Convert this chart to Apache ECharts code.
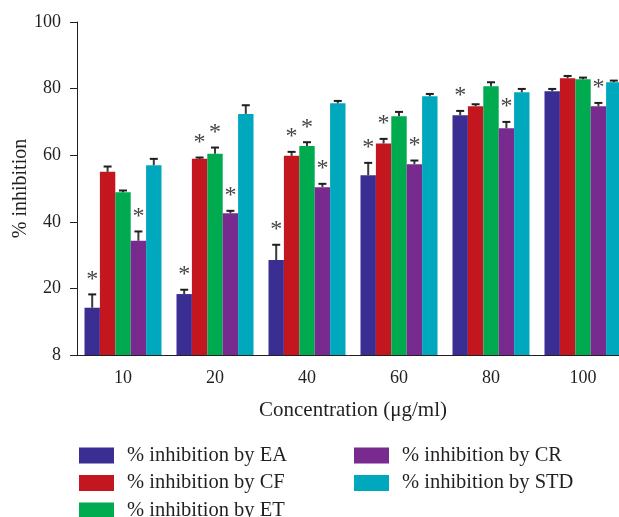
<!DOCTYPE html>
<html>
<head>
<meta charset="utf-8">
<script src="https://cdn.jsdelivr.net/npm/echarts@6/dist/echarts.min.js"></script>
<style>
  html, body { margin: 0; padding: 0; background: #fff; }
  #chart { width: 619px; height: 517px; }
</style>
</head>
<body>
<div id="chart"></div>
<script>
// Concentrations (µg/ml)
const categories = ['10', '20', '40', '60', '80', '100'];
const yTickLabels = ['8', '20', '40', '60', '80', '100'];

// Mean % inhibition per extract
const eaMean  = [14.2, 18.3, 28.5, 54.0, 72.0, 79.2];
const cfMean  = [55.0, 58.9, 59.8, 63.5, 74.7, 83.1];
const etMean  = [48.9, 60.4, 62.8, 71.7, 80.7, 82.8];
const crMean  = [34.3, 42.6, 50.4, 57.3, 68.1, 74.7];
const stdMean = [57.0, 72.4, 75.6, 77.7, 78.9, 81.9];

// Upper end of the error bars
const eaUpper  = [18.2, 19.6, 33.1, 57.7, 73.3, 79.9];
const cfUpper  = [56.6, 59.3, 61.0, 64.9, 75.3, 83.8];
const etUpper  = [49.4, 62.3, 63.9, 73.0, 81.9, 83.3];
const crUpper  = [37.1, 43.3, 51.4, 58.4, 70.0, 75.7];
const stdUpper = [58.9, 75.0, 76.3, 78.4, 79.9, 82.4];

// Significance marks (1 = asterisk)
const eaSig  = [1, 1, 1, 1, 1, 0];
const cfSig  = [0, 1, 1, 1, 0, 0];
const etSig  = [0, 1, 1, 0, 0, 0];
const crSig  = [1, 1, 1, 1, 1, 1];
const stdSig = [0, 0, 0, 0, 0, 0];

const seriesNames = [
  '% inhibition by EA', '% inhibition by CF', '% inhibition by ET',
  '% inhibition by CR', '% inhibition by STD'
];
const colors = ['#3a2e92', '#c4161e', '#00aa4e', '#782a8e', '#00a8bd'];
const means = [eaMean, cfMean, etMean, crMean, stdMean];
const uppers = [eaUpper, cfUpper, etUpper, crUpper, stdUpper];
const sigs = [eaSig, cfSig, etSig, crSig, stdSig];

const FONT = '"Liberation Serif", "DejaVu Serif", serif';
const TEXT = '#231f20';
const BAR_W = 15.4;

function makeErrorRenderer(k) {
  return function (params, api) {
    const idx = api.value(0);
    const upper = api.value(1);
    const mean = api.value(2);
    const sig = api.value(3);
    const base = api.coord([idx, mean]);
    const top = api.coord([idx, upper]);
    const x = base[0] + (k - 2) * BAR_W;
    const children = [
      { type: 'line', shape: { x1: x, y1: base[1], x2: x, y2: top[1] },
        style: { stroke: '#3a3a3a', lineWidth: 2 } },
      { type: 'line', shape: { x1: x - 4, y1: top[1], x2: x + 4, y2: top[1] },
        style: { stroke: '#1e1e1e', lineWidth: 2 } }
    ];
    if (sig) {
      children.push({
        type: 'text',
        x: x, y: top[1] - 3,
        style: {
          text: '*', fill: '#444', font: '24px ' + FONT,
          align: 'center', verticalAlign: 'bottom'
        }
      });
    }
    return { type: 'group', children: children };
  };
}

const series = [];
seriesNames.forEach(function (name, k) {
  series.push({
    name: name,
    type: 'bar',
    barWidth: BAR_W,
    barGap: '0%',
    itemStyle: { color: colors[k] },
    data: means[k],
    z: 2
  });
});
seriesNames.forEach(function (name, k) {
  series.push({
    type: 'custom',
    name: name + ' error',
    renderItem: makeErrorRenderer(k),
    data: means[k].map(function (m, i) { return [i, uppers[k][i], m, sigs[k][i]]; }),
    encode: { x: 0, y: 1 },
    z: 5,
    silent: true
  });
});

// One legend row per series: two columns, three rows on the left
const legendSpots = [[79, 445], [79, 472.5], [79, 500], [354, 445], [354, 472.5]];
const legends = seriesNames.map(function (name, k) {
  return {
    data: [name],
    left: legendSpots[k][0], top: legendSpots[k][1], padding: 0,
    icon: 'rect', itemWidth: 35, itemHeight: 16,
    textStyle: { fontFamily: FONT, fontSize: 20.5, color: TEXT, lineHeight: 16, padding: [0, 0, 0, 8] },
    selectedMode: false
  };
});

const chart = echarts.init(document.getElementById('chart'), null, { renderer: 'canvas' });
chart.setOption({
  animation: false,
  backgroundColor: '#fff',
  grid: { left: 77, width: 552, top: 22, bottom: 162, outerBoundsMode: 'none', containLabel: false },
  legend: legends,
  xAxis: {
    type: 'category',
    data: categories,
    name: 'Concentration (\u03bcg/ml)',
    nameLocation: 'middle',
    nameGap: 45,
    nameMoveOverlap: false,
    nameTextStyle: { fontFamily: FONT, fontSize: 21, color: TEXT },
    axisLine: { lineStyle: { color: '#231f20', width: 1 } },
    axisTick: { alignWithLabel: true, length: 5, lineStyle: { color: '#231f20' } },
    axisLabel: { fontFamily: FONT, fontSize: 18, color: TEXT, margin: 14 }
  },
  yAxis: {
    type: 'value',
    min: 0, max: 100, interval: 20,
    name: '% inhibition',
    nameLocation: 'middle',
    nameGap: 46,
    nameMoveOverlap: false,
    nameTextStyle: { fontFamily: FONT, fontSize: 20, color: TEXT },
    axisLine: { show: true, lineStyle: { color: '#231f20', width: 1 } },
    axisTick: { show: true, length: 7, lineStyle: { color: '#231f20' } },
    splitLine: { show: false },
    axisLabel: {
      fontFamily: FONT, fontSize: 18, color: TEXT, margin: 16,
      formatter: function (v) { return yTickLabels[Math.round(v / 20)]; }
    }
  },
  series: series
});
</script>
</body>
</html>
